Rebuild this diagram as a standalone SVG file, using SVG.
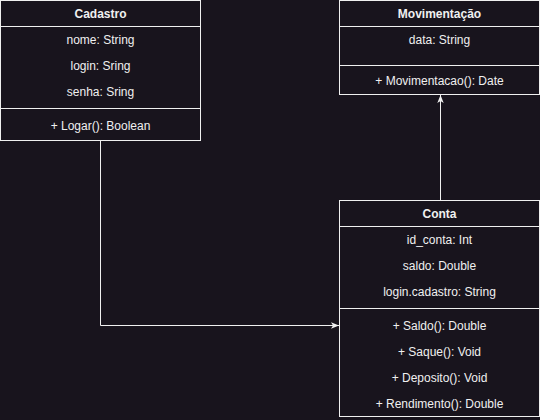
<svg xmlns="http://www.w3.org/2000/svg" width="540" height="420" viewBox="0 0 540 420">
<defs>
<style>
.box{fill:#18141d;stroke:#f0f0f0;stroke-width:1}
.ln{stroke:#f0f0f0;stroke-width:1;fill:none}
text{font-family:"Liberation Sans",Arial,sans-serif;font-size:12px;fill:#f0f0f0;text-anchor:middle;dominant-baseline:central}
.t{font-weight:bold}
</style>
<marker id="arr" viewBox="0 0 10 10" refX="10" refY="5" markerWidth="8" markerHeight="8" markerUnits="userSpaceOnUse" orient="auto">
<path d="M0,1 L10,5 L0,9 L2.5,5 Z" fill="#f0f0f0"/>
</marker>
</defs>
<rect width="540" height="420" fill="#18141d"/>
<g id="connectors">
<path class="ln" d="M100.5,140.5 V325.5 H339" marker-end="url(#arr)"/>
<path class="ln" d="M440.5,200.5 V95" marker-end="url(#arr)"/>
</g>
<g id="cadastro">
<rect class="box" x="0.5" y="0.5" width="200" height="140"/>
<line class="ln" x1="0.5" y1="26.5" x2="200.5" y2="26.5"/>
<line class="ln" x1="0.5" y1="108.5" x2="200.5" y2="108.5"/>
<text class="t" x="100.5" y="14">Cadastro</text>
<text x="100.5" y="40">nome: String</text>
<text x="100.5" y="66">login: Sring</text>
<text x="100.5" y="92">senha: Sring</text>
<text x="100.5" y="126">+ Logar(): Boolean</text>
</g>
<g id="movimentacao">
<rect class="box" x="339.5" y="0.5" width="200" height="94"/>
<line class="ln" x1="339.5" y1="26.5" x2="539.5" y2="26.5"/>
<line class="ln" x1="339.5" y1="65.5" x2="539.5" y2="65.5"/>
<text class="t" x="439.5" y="14">Movimentação</text>
<text x="439.5" y="40">data: String</text>
<text x="439.5" y="81">+ Movimentacao(): Date</text>
</g>
<g id="conta">
<rect class="box" x="339.5" y="200.5" width="200" height="216"/>
<line class="ln" x1="339.5" y1="226.5" x2="539.5" y2="226.5"/>
<line class="ln" x1="339.5" y1="308.5" x2="539.5" y2="308.5"/>
<text class="t" x="439.5" y="214">Conta</text>
<text x="439.5" y="240">id_conta: Int</text>
<text x="439.5" y="266">saldo: Double</text>
<text x="439.5" y="292">login.cadastro: String</text>
<text x="439.5" y="326">+ Saldo(): Double</text>
<text x="439.5" y="352">+ Saque(): Void</text>
<text x="439.5" y="378">+ Deposito(): Void</text>
<text x="439.5" y="404">+ Rendimento(): Double</text>
</g>
</svg>
